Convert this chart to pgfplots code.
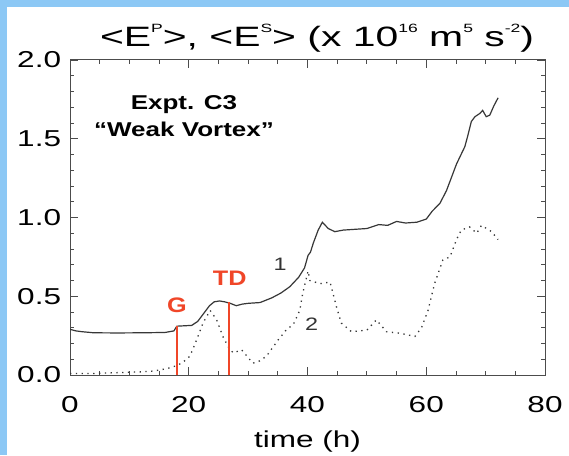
\documentclass[border=0pt]{standalone}
\usepackage{fontspec}
\setmainfont{Liberation Sans}
\usepackage{pgfplots}
\pgfplotsset{compat=1.18}
\definecolor{bgblue}{RGB}{140,200,245}
\definecolor{redline}{RGB}{240,70,40}
\definecolor{curve}{RGB}{55,55,55}
\newcommand{\sx}[1]{\raisebox{0.5em}{\fontsize{12}{12}\selectfont #1}}
\begin{document}
\begin{tikzpicture}
\useasboundingbox (0,0) rectangle (569pt,455pt);
\fill[bgblue] (0,0) rectangle (569pt,455pt);
\fill[white] (7pt,0) rectangle (569pt,448pt);
\node[font=\fontsize{28}{32}\selectfont, anchor=base, xscale=1.46] at (317pt,408pt) {<E\sx{P}>, <E\sx{S}> (x 10\sx{16} m\sx{5} s\sx{-2})};
\begin{axis}[
  at={(70pt,80pt)}, anchor=south west,
  width=475pt, height=315pt, scale only axis,
  xmin=0, xmax=80, ymin=0, ymax=2,
  xtick={0,20,...,80}, ytick={0,0.5,...,2},
  minor x tick num=3, minor y tick num=4,
  tick align=inside, major tick length=8pt, minor tick length=4pt,
  axis line style={draw=black!70, line width=1pt},
  every tick/.style={black!70, line width=0.8pt},
  /pgf/number format/assume math mode=true,
  tick label style={font=\fontsize{23}{26}\selectfont, xscale=1.37},
  xticklabel style={yshift=-18pt},
  yticklabel style={xshift=-3pt, /pgf/number format/fixed, /pgf/number format/fixed zerofill, /pgf/number format/precision=1},
  xlabel={time (h)},
  xlabel style={font=\fontsize{23}{26}\selectfont, xscale=1.37, at={(axis description cs:0.5,0)}, anchor=base, yshift=-72pt},
]
\addplot[curve, line width=1.2pt] coordinates {
(0,0.29)(1,0.28)(2,0.275)(4,0.268)(8,0.267)(12,0.268)(16,0.27)(17.5,0.28)(18,0.31)(20.5,0.315)(21.5,0.34)(22.5,0.39)(23.5,0.44)(24.3,0.465)(25.2,0.47)(26,0.465)(27,0.455)(28,0.44)(29,0.45)(30,0.455)(32,0.46)(34,0.49)(35.5,0.52)(37,0.56)(38.5,0.62)(39.5,0.68)(40.1,0.76)(40.5,0.78)(41,0.84)(41.8,0.92)(42.5,0.97)(43.5,0.93)(44.6,0.91)(46,0.92)(48,0.925)(50,0.93)(52,0.955)(53.5,0.95)(55,0.975)(56.5,0.965)(58.4,0.97)(60,0.99)(61,1.04)(62.3,1.09)(63.4,1.17)(64.3,1.26)(65.1,1.34)(66.5,1.45)(67,1.52)(67.6,1.61)(68.2,1.64)(69,1.66)(69.5,1.68)(70.1,1.64)(70.7,1.65)(71.4,1.71)(72.1,1.76)
};
\addplot[curve, line width=1.3pt, dash pattern=on 1.3pt off 4.5pt] coordinates {
(0,0.01)(4,0.01)(8,0.015)(12,0.02)(14,0.025)(16.3,0.04)(18,0.06)(19,0.08)(20.2,0.12)(21.3,0.22)(22.4,0.33)(23.6,0.41)(24.7,0.35)(25.8,0.24)(26.8,0.17)(27.5,0.14)(28.9,0.16)(30.8,0.075)(32,0.09)(33.1,0.12)(35,0.22)(36.5,0.29)(37.6,0.32)(38.7,0.41)(39.2,0.52)(40.1,0.66)(40.4,0.60)(42.1,0.58)(43.8,0.59)(44.9,0.43)(45.7,0.33)(47.4,0.275)(50,0.285)(51.6,0.35)(53.3,0.275)(55.6,0.265)(58.1,0.245)(59.2,0.30)(60.3,0.41)(61.4,0.58)(62.8,0.73)(64,0.75)(65.1,0.86)(65.9,0.92)(67.3,0.94)(68.5,0.90)(69.3,0.95)(71,0.91)(72.1,0.86)
};
\addplot[redline, line width=2pt] coordinates {(18,0)(18,0.31)};
\addplot[redline, line width=2pt] coordinates {(26.8,0)(26.8,0.465)};
\node[font=\bfseries\fontsize{21}{24}\selectfont, text=redline, xscale=1.2] at (axis cs:18,0.445) {G};
\node[font=\bfseries\fontsize{21}{24}\selectfont, text=redline, xscale=1.2] at (axis cs:26.9,0.615) {TD};
\node[font=\fontsize{18}{20}\selectfont, text=black!80, xscale=1.3] at (axis cs:35.4,0.70) {1};
\node[font=\fontsize{18}{20}\selectfont, text=black!80, xscale=1.3] at (axis cs:40.7,0.325) {2};
\node[font=\bfseries\fontsize{20}{27}\selectfont, align=center, xscale=1.3] at (axis cs:19.2,1.645) {Expt. C3\\“Weak Vortex”};
\end{axis}
\end{tikzpicture}
\end{document}
